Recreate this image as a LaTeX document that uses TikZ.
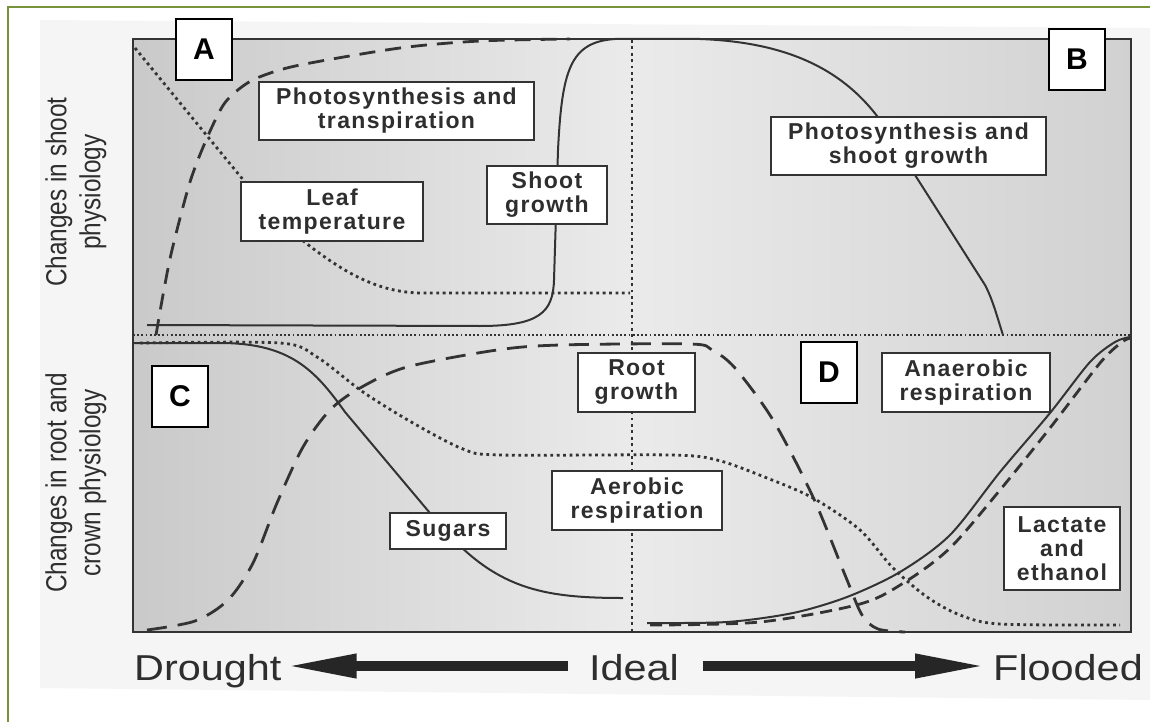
\documentclass[tikz,border=0pt]{standalone}
\usepackage{fontspec}
\setmainfont{Liberation Sans}
\newfontfamily\lblfont{Liberation Sans}[LetterSpace=6]
\newfontfamily\axisfont{Liberation Sans}[FakeStretch=0.84]
\newfontfamily\wetdryfont{Liberation Sans}[FakeStretch=1.15]
\usetikzlibrary{arrows.meta}
\definecolor{frame}{HTML}{77933C}
\definecolor{ink}{HTML}{333333}
\definecolor{txt}{HTML}{2E2E2E}

\begin{document}
\begin{tikzpicture}[x=1pt,y=-1pt,
  curve/.style={ink, line width=2pt, line join=round},
  dotline/.style={ink, line width=2.8pt, dash pattern=on 2.8pt off 3.6pt},
  finedots/.style={ink, line width=1.8pt, dash pattern=on 1.8pt off 2.4pt},
  longdash/.style={ink, line width=2.8pt, dash pattern=on 16pt off 10pt},
  rootdash/.style={ink, line width=2.8pt, dash pattern=on 20pt off 11pt},
  shortdash/.style={ink, line width=2.8pt, dash pattern=on 12pt off 7pt},
  tagbox/.style={draw=ink, line width=2pt, fill=white, text=txt, align=center, inner sep=0pt,
    font=\lblfont\bfseries\fontsize{23}{24}\selectfont},
  letterbox/.style={draw=black, line width=1.6pt, fill=white, inner sep=0pt,
    minimum width=56pt, minimum height=61pt, font=\bfseries\fontsize{30}{30}\selectfont},
  axislabel/.style={rotate=90, align=center, text=txt, font=\axisfont\fontsize{29}{34}\selectfont},
  endword/.style={text=txt, inner sep=0pt, font=\wetdryfont\fontsize{36}{36}\selectfont},
  bigarrow/.style={draw=black!85, line width=10pt, -{Triangle[length=72pt,width=22pt]}}
]
\useasboundingbox (0,0) rectangle (1150,722);

% page frame and scanned sheet
\fill[white] (0,0) rectangle (1150,722);
\fill[black!4] (40,20) -- (1150,28) -- (1150,700) -- (40,688) -- cycle;
\draw[frame, line width=2.5pt] (8,722) -- (8,7) -- (1150,7);

% plot panel
\shade[left color=black!21, right color=black!18, middle color=black!8] (133,39) rectangle (1131,632);
\draw[ink, line width=2pt] (133,39) rectangle (1131,632);

% quadrant dividers
\draw[finedots] (133,335) -- (1131,335);
\draw[dotline] (632,40) -- (632,631);

% shoot physiology curves
\draw[dotline] (135,48) -- (272,215) .. controls (330,265) and (370,292) .. (420,293) -- (630,293);
\draw[longdash] plot[smooth, tension=0.5] coordinates {(156,335) (163,295) (172,250) (190,182) (207,138)
  (224,104) (243,86) (262,76) (300,65) (400,48) (480,41) (570,39)};
\draw[curve] (147,325) -- (480,326) .. controls (540,326) and (553,312) .. (554,280) -- (558,150)
  .. controls (562,70) and (570,42) .. (615,39) -- (700,39)
  .. controls (780,42) and (840,65) .. (880,120) -- (985,285)
  .. controls (993,300) and (998,320) .. (1003,335);

% root and crown physiology curves
\draw[curve] (133,343) -- (220,343) .. controls (290,343) and (315,370) .. (345,412) -- (440,525)
  .. controls (495,588) and (540,598) .. (623,598);
\draw[rootdash] plot[smooth, tension=0.5] coordinates {(147,630) (195,621) (228,600) (253,563) (277,503)
  (303,447) (330,410) (360,388) (407,367) (497,350) (560,345) (690,344) (712,350) (735,368)
  (773,420) (813,497) (845,575) (862,615) (878,629) (905,632)};
\draw[dotline] plot[smooth, tension=0.5] coordinates {(140,343) (280,343) (317,357) (363,392) (413,423)
  (463,449) (500,455) (670,455) (717,460) (767,478) (813,498) (860,530) (893,568) (927,597)
  (960,615) (1000,624) (1120,625)};
\draw[curve] plot[smooth, tension=0.5] coordinates {(647,623) (727,622) (793,613) (847,597) (900,572)
  (950,535) (1000,472) (1050,413) (1090,362) (1115,342) (1130,337)};
\draw[shortdash] plot[smooth, tension=0.5] coordinates {(650,625) (760,622) (860,604) (905,582)
  (950,548) (1000,490) (1050,428) (1100,363) (1122,342) (1131,338)};

% curve labels
\node[tagbox, minimum width=275pt, minimum height=58pt] (pstr) at (396.5,111) {Photosynthesis and\\transpiration};
\node[tagbox, minimum width=182pt, minimum height=59pt] (leaf) at (332,211.5) {Leaf\\temperature};
\node[tagbox, minimum width=120pt, minimum height=58pt] (shoot) at (547,195) {Shoot\\growth};
\node[tagbox, minimum width=275pt, minimum height=58pt] (pssg) at (908.5,146) {Photosynthesis and\\shoot growth};
\node[tagbox, minimum width=117pt, minimum height=59pt] (root) at (636.5,382.5) {Root\\growth};
\node[tagbox, minimum width=170pt, minimum height=59pt] (aerob) at (637,500.5) {Aerobic\\respiration};
\node[tagbox, minimum width=116pt, minimum height=36pt] (sugar) at (448,531) {Sugars};
\node[tagbox, minimum width=168pt, minimum height=59pt] (anaer) at (966,382.5) {Anaerobic\\respiration};
\node[tagbox, minimum width=116pt, minimum height=83pt] (lact) at (1062,548.5) {Lactate\\and\\ethanol};

% quadrant letters
\node[letterbox] (qa) at (204,49.5) {A};
\node[letterbox] (qb) at (1077,59.5) {B};
\node[letterbox] (qc) at (180,396.5) {C};
\node[letterbox] (qd) at (829,372.5) {D};

% axis titles
\node[axislabel] (shootax) at (76,192) {Changes in shoot\\physiology};
\node[axislabel] (rootax) at (76,483) {Changes in root and\\crown physiology};

% water status scale
\coordinate (axisrow) at (0,666);
\node[endword, anchor=base west] (drought) at (134,680) {Drought};
\node[endword, anchor=base] (ideal) at (634,680) {Ideal};
\node[endword, anchor=base east] (flooded) at (1143,680) {Flooded};
\draw[bigarrow, shorten <=21pt, shorten >=3pt] (ideal.west |- axisrow) -- (drought.east |- axisrow);
\draw[bigarrow, shorten <=24pt, shorten >=6pt] (ideal.east |- axisrow) -- (flooded.west |- axisrow);
\end{tikzpicture}
\end{document}
